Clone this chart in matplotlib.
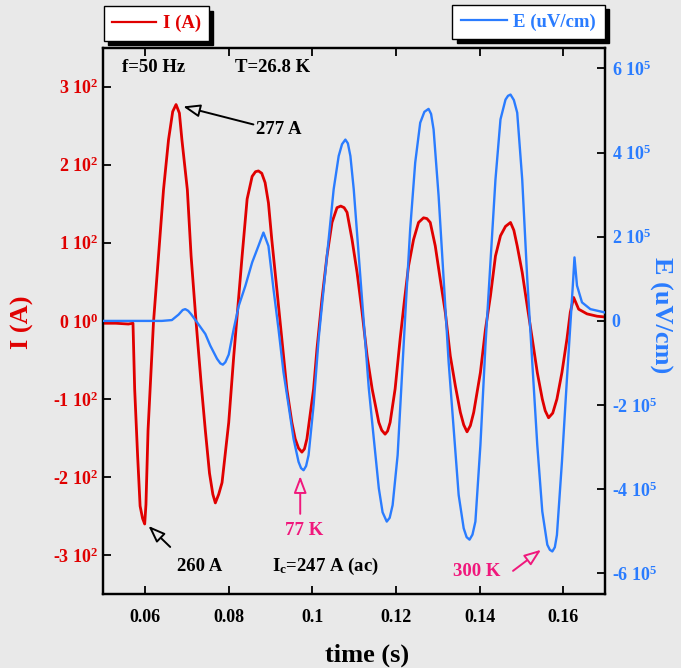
import matplotlib
matplotlib.use('Agg')
import matplotlib.pyplot as plt
from matplotlib.lines import Line2D
import numpy as np

# ---- data ----
time_I = [0.0500, 0.0530, 0.0560, 0.0571, 0.0575, 0.0582, 0.0588, 0.0594, 0.0599, 0.0602,
          0.0607, 0.0620, 0.0632, 0.0644, 0.0656, 0.0666, 0.0674, 0.0682, 0.0688, 0.0701,
          0.0710, 0.0722, 0.0734, 0.0744, 0.0754, 0.0762, 0.0768, 0.0776, 0.0784, 0.0800,
          0.0812, 0.0820, 0.0832, 0.0844, 0.0856, 0.0864, 0.0871, 0.0879, 0.0887, 0.0895,
          0.0903, 0.0915, 0.0927, 0.0939, 0.0951, 0.0959, 0.0967, 0.0975, 0.0981, 0.0987,
          0.1003, 0.1011, 0.1023, 0.1035, 0.1047, 0.1059, 0.1068, 0.1076, 0.1083, 0.1095,
          0.1107, 0.1119, 0.1131, 0.1143, 0.1159, 0.1166, 0.1174, 0.1180, 0.1186, 0.1198,
          0.1210, 0.1220, 0.1230, 0.1242, 0.1254, 0.1266, 0.1274, 0.1282, 0.1294, 0.1306,
          0.1318, 0.1330, 0.1342, 0.1354, 0.1362, 0.1370, 0.1378, 0.1386, 0.1402, 0.1414,
          0.1426, 0.1438, 0.1450, 0.1462, 0.1474, 0.1482, 0.1490, 0.1502, 0.1514, 0.1526,
          0.1538, 0.1550, 0.1557, 0.1565, 0.1575, 0.1585, 0.1597, 0.1609, 0.1617, 0.1625,
          0.1637, 0.1657, 0.1681, 0.1700]
current_A = [-3, -3, -4, -3, -87, -172, -237, -253, -260, -235,
             -140, -2, 83, 168, 232, 268, 277, 266, 232, 168,
             83, -2, -80, -140, -195, -222, -233, -222, -207, -130,
             -45, 6, 83, 156, 185, 191, 192, 189, 177, 151,
             104, 41, -23, -87, -130, -151, -163, -168, -164, -151,
             -87, -36, 28, 83, 126, 145, 147, 145, 139, 104,
             62, 11, -45, -87, -130, -140, -145, -141, -130, -87,
             -23, 25, 70, 104, 126, 132, 131, 126, 96, 53,
             11, -45, -83, -117, -133, -142, -134, -117, -66, -11,
             32, 83, 109, 121, 126, 116, 96, 62, 19, -23,
             -66, -100, -115, -124, -118, -100, -66, -23, 11, 30,
             15, 9, 6, 5]

time_E = [0.0500, 0.0570, 0.0640, 0.0664, 0.0680, 0.0690, 0.0696, 0.0703, 0.0710, 0.0724,
          0.0744, 0.0756, 0.0772, 0.0780, 0.0786, 0.0792, 0.0800, 0.0812, 0.0824, 0.0840,
          0.0856, 0.0871, 0.0883, 0.0895, 0.0907, 0.0919, 0.0931, 0.0943, 0.0955, 0.0967,
          0.0973, 0.0979, 0.0985, 0.0991, 0.1003, 0.1015, 0.1027, 0.1039, 0.1051, 0.1063,
          0.1071, 0.1079, 0.1085, 0.1091, 0.1099, 0.1111, 0.1123, 0.1135, 0.1147, 0.1159,
          0.1168, 0.1178, 0.1185, 0.1192, 0.1204, 0.1216, 0.1224, 0.1234, 0.1246, 0.1258,
          0.1268, 0.1278, 0.1284, 0.1290, 0.1302, 0.1314, 0.1326, 0.1338, 0.1350, 0.1362,
          0.1369, 0.1376, 0.1383, 0.1390, 0.1402, 0.1414, 0.1426, 0.1438, 0.1450, 0.1462,
          0.1468, 0.1474, 0.1482, 0.1490, 0.1502, 0.1514, 0.1526, 0.1538, 0.1550, 0.1562,
          0.1568, 0.1574, 0.1580, 0.1585, 0.1597, 0.1609, 0.1619, 0.1624, 0.1627, 0.1633,
          0.1645, 0.1665, 0.1700]
field_1e5 = [0.0, 0.0, 0.0, 0.02, 0.15, 0.26, 0.28, 0.24, 0.16, -0.03,
             -0.31, -0.59, -0.90, -1.01, -1.04, -0.98, -0.80, -0.19, 0.36, 0.84,
             1.39, 1.78, 2.10, 1.78, 0.76, -0.19, -1.22, -2.00, -2.80, -3.35,
             -3.50, -3.55, -3.45, -3.19, -2.00, -0.43, 0.76, 1.94, 3.13, 3.92,
             4.20, 4.31, 4.22, 3.92, 3.13, 1.55, -0.03, -1.60, -2.80, -3.98,
             -4.55, -4.77, -4.68, -4.38, -3.19, -1.00, 0.45, 2.18, 3.76, 4.71,
             4.97, 5.04, 4.92, 4.55, 2.97, 1.00, -0.98, -2.56, -4.14, -4.93,
             -5.14, -5.20, -5.08, -4.77, -2.95, -0.59, 1.39, 3.36, 4.79, 5.26,
             5.35, 5.38, 5.25, 4.95, 3.36, 1.00, -0.98, -2.95, -4.53, -5.32,
             -5.44, -5.48, -5.38, -5.09, -3.35, -1.37, 0.20, 1.00, 1.51, 0.84,
             0.44, 0.28, 0.20]

x_ticks = [0.06, 0.08, 0.10, 0.12, 0.14, 0.16]
x_tick_labels = ['0.06', '0.08', '0.1', '0.12', '0.14', '0.16']
I_ticks = [-300, -200, -100, 0, 100, 200, 300]
I_tick_labels = ['-3 10$^{2}$', '-2 10$^{2}$', '-1 10$^{2}$', '0 10$^{0}$',
                 '1 10$^{2}$', '2 10$^{2}$', '3 10$^{2}$']
E_ticks = [-6e5, -4e5, -2e5, 0, 2e5, 4e5, 6e5]
E_tick_labels = ['-6 10$^{5}$', '-4 10$^{5}$', '-2 10$^{5}$', '0',
                 '2 10$^{5}$', '4 10$^{5}$', '6 10$^{5}$']

RED = '#e00000'
BLUE = '#2a7cff'
PINK = '#f0187c'
BG = '#e9e9e9'

plt.rcParams['font.family'] = 'Liberation Serif'
plt.rcParams['font.weight'] = 'bold'
plt.rcParams['mathtext.fontset'] = 'custom'
plt.rcParams['mathtext.rm'] = 'Liberation Serif:bold'
plt.rcParams['mathtext.it'] = 'Liberation Serif:bold'
plt.rcParams['mathtext.bf'] = 'Liberation Serif:bold'

fig = plt.figure(figsize=(6.81, 6.68), dpi=100, facecolor=BG)
ax = fig.add_axes([0.1517, 0.1115, 0.7367, 0.8162])
ax.set_facecolor(BG)
ax2 = ax.twinx()

ax.plot(time_I, current_A, color=RED, lw=2.0, zorder=3)
ax2.plot(time_E, np.array(field_1e5) * 1e5, color=BLUE, lw=1.7, zorder=3)

ax.set_xlim(0.05, 0.17)
ax.set_ylim(-349, 349)
ax2.set_ylim(-6.48e5, 6.48e5)

ax.set_xticks(x_ticks)
ax.set_xticklabels(x_tick_labels)
ax.set_yticks(I_ticks)
ax.set_yticklabels(I_tick_labels)
ax2.set_yticks(E_ticks)
ax2.set_yticklabels(E_tick_labels)

ax.tick_params(axis='x', direction='in', length=6, width=1.3, top=True,
               labelsize=13, pad=11, labelcolor='black')
ax.tick_params(axis='y', direction='in', length=6, width=1.3,
               labelsize=13, pad=3.5, labelcolor=RED)
ax2.tick_params(axis='y', direction='in', length=6, width=1.3,
                labelsize=13, pad=4.8, labelcolor=BLUE)
for a in (ax, ax2):
    for s in a.spines.values():
        s.set_linewidth(1.6)

fig.text(22 / 681, 1 - 322 / 668, 'I (A)', rotation=90, color=RED, fontsize=19,
         ha='center', va='center')
fig.text(661 / 681, 1 - 315 / 668, 'E (uV/cm)', rotation=270, color=BLUE, fontsize=19,
         ha='center', va='center')
fig.text(367 / 681, 1 - 655 / 668, 'time (s)', color='black', fontsize=19,
         ha='center', va='center')

# legends
shadow = {'color': 'black', 'alpha': 1, 'ox': 3, 'oy': -3}
leg1 = fig.legend(handles=[Line2D([], [], color=RED, lw=1.6)], labels=['I (A)'],
                  loc='center', bbox_to_anchor=(156.5 / 681, 1 - 23.5 / 668), fancybox=False,
                  shadow=shadow, edgecolor='black',
                  framealpha=1, fontsize=13.5, labelcolor=RED, handlelength=2.35,
                  handletextpad=0.35, borderpad=0.45, borderaxespad=0)
leg1.get_frame().set_linewidth(1.0)
leg2 = fig.legend(handles=[Line2D([], [], color=BLUE, lw=1.6)], labels=['E (uV/cm)'],
                  loc='center', bbox_to_anchor=(528.5 / 681, 1 - 22 / 668), fancybox=False,
                  shadow=shadow, edgecolor='black',
                  framealpha=1, fontsize=13.5, labelcolor=BLUE, handlelength=2.45,
                  handletextpad=0.35, borderpad=0.45, borderaxespad=0)
leg2.get_frame().set_linewidth(1.0)

# annotations
ax.text(0.038, 0.965, 'f=50 Hz', transform=ax.transAxes, fontsize=13.5, ha='left', va='center')
ax.text(0.263, 0.965, 'T=26.8 K', transform=ax.transAxes, fontsize=13.5, ha='left', va='center')

def arrow(head, tail, color):
    ax.annotate('', xy=head, xytext=tail,
                arrowprops=dict(arrowstyle='-|>,head_length=0.85,head_width=0.32',
                                mutation_scale=12, fc=BG, ec=color, lw=1.4,
                                shrinkA=0, shrinkB=0))

ax.text(0.0866, 245, '277 A', fontsize=13.5, ha='left', va='center')
arrow((0.0691, 274.5), (0.0859, 251.5), 'black')
ax.text(0.0677, -314, '260 A', fontsize=13.5, ha='left', va='center')
arrow((0.0608, -262.5), (0.0660, -289.4), 'black')
ax.text(0.0904, -314, 'I$_{c}$=247 A (ac)', fontsize=13.5, ha='left', va='center')
ax.text(0.0980, -268, '77 K', fontsize=13.5, ha='center', va='center', color=PINK)
arrow((0.0971, -198.6), (0.0971, -247), PINK)
ax.text(0.1337, -321, '300 K', fontsize=13.5, ha='left', va='center', color=PINK)
arrow((0.1547, -293), (0.1480, -320), PINK)

fig.savefig('out.png', dpi=100, facecolor=BG)
